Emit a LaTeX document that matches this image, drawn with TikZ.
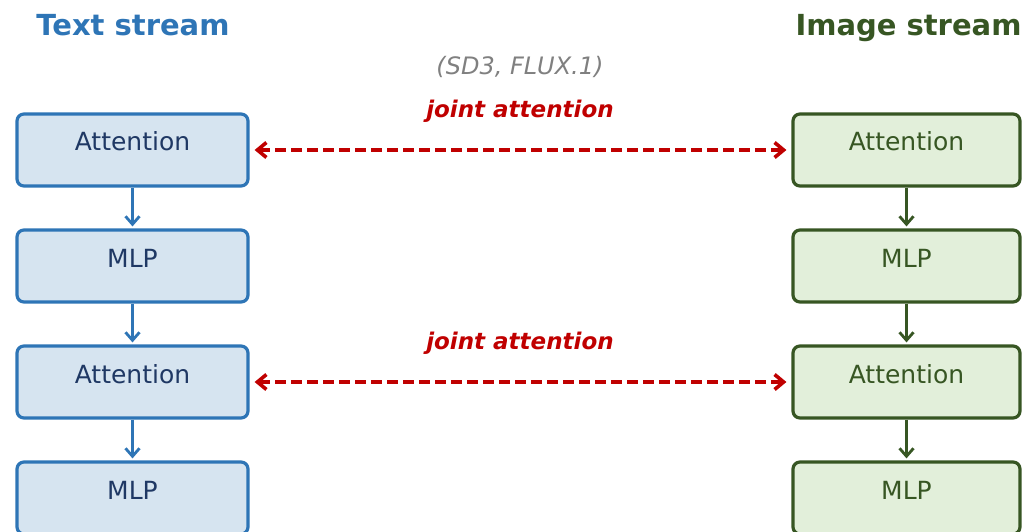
\documentclass[tikz,border=0pt]{standalone}
\usepackage{fontspec}
\setmainfont{DejaVu Sans}
\usetikzlibrary{arrows.meta}
\definecolor{tblue}{HTML}{2E75B6}
\definecolor{tfill}{HTML}{D6E4F0}
\definecolor{ttext}{HTML}{1F3864}
\definecolor{igreen}{HTML}{375623}
\definecolor{ifill}{HTML}{E2EFDA}
\definecolor{jred}{HTML}{C00000}
\definecolor{sgray}{HTML}{808080}
\tikzset{
  basebox/.style={rounded corners=7pt, line width=3.2pt, inner sep=0pt,
    text height=37pt, text depth=35pt, font=\fontsize{25}{30}\selectfont},
  tbox/.style={basebox, draw=tblue, fill=tfill, text=ttext, minimum width=231pt},
  ibox/.style={basebox, draw=igreen, fill=ifill, text=igreen, minimum width=227pt},
  tarrow/.style={draw=tblue, line width=2.8pt, -{Straight Barb[length=8pt,width=14pt]}, shorten >=2pt},
  iarrow/.style={draw=igreen, line width=2.8pt, -{Straight Barb[length=8pt,width=14pt]}, shorten >=2pt},
  jarrow/.style={draw=jred, line width=3.6pt, dash pattern=on 11pt off 5pt,
    {Straight Barb[length=9pt,width=15pt]}-{Straight Barb[length=9pt,width=15pt]},
    shorten <=5pt, shorten >=5pt},
  title/.style={font=\fontsize{29}{33}\selectfont\bfseries, anchor=base},
  jlabel/.style={font=\fontsize{23}{27}\selectfont\bfseries\itshape, text=jred, anchor=base},
}
\begin{document}
\begin{tikzpicture}[x=1pt,y=-1pt]
\useasboundingbox (0,0) rectangle (1023,532);
\clip (0,0) rectangle (1023,532);
\node[title, text=tblue] (tt) at (133,36) {Text stream};
\node[title, text=igreen] (it) at (908.5,36) {Image stream};
\node[font=\fontsize{24}{28}\selectfont\itshape, text=sgray, anchor=base] (sub) at (520,75) {(SD3, FLUX.1)};
\node[jlabel] (j1) at (520,118) {joint attention};
\node[jlabel] (j2) at (520,349) {joint attention};

\node[tbox] (t1) at (132.5,150) {Attention};
\node[tbox] (t2) at (132.5,266) {MLP};
\node[tbox] (t3) at (132.5,382) {Attention};
\node[tbox] (t4) at (132.5,498) {MLP};

\node[ibox] (i1) at (906.5,150) {Attention};
\node[ibox] (i2) at (906.5,266) {MLP};
\node[ibox] (i3) at (906.5,382) {Attention};
\node[ibox] (i4) at (906.5,498) {MLP};

\draw[tarrow] (t1) -- (t2);
\draw[tarrow] (t2) -- (t3);
\draw[tarrow] (t3) -- (t4);
\draw[iarrow] (i1) -- (i2);
\draw[iarrow] (i2) -- (i3);
\draw[iarrow] (i3) -- (i4);

\draw[jarrow] (t1.east) -- (i1.west);
\draw[jarrow] (t3.east) -- (i3.west);
\end{tikzpicture}
\end{document}
